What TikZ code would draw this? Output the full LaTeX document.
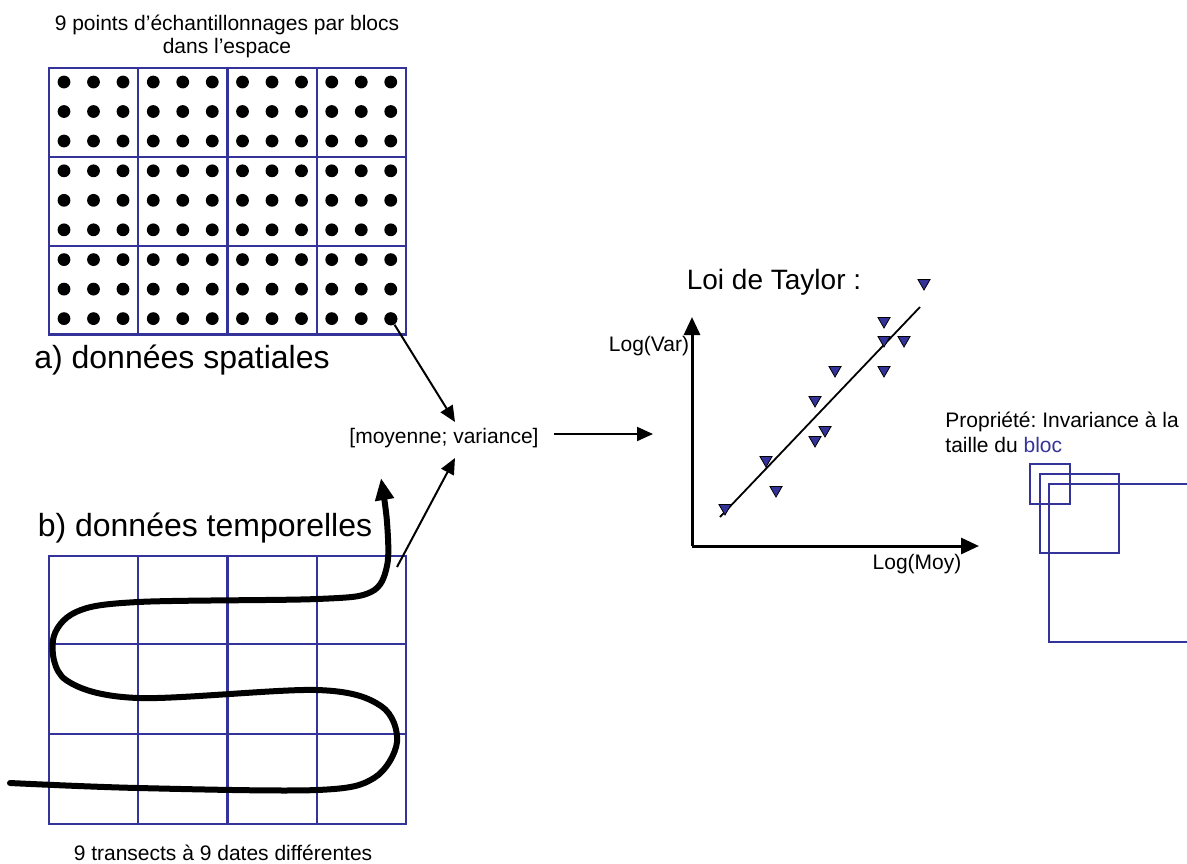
\documentclass[tikz,border=0pt]{standalone}
\usepackage{fontspec}
\setmainfont{Liberation Sans}
\frenchspacing
\usetikzlibrary{arrows.meta,shapes.geometric}
\definecolor{blocblue}{RGB}{51,51,153}
\tikzstyle{cell}=[draw=blocblue, line width=1.1pt]
\tikzstyle{dot}=[circle,fill=black,minimum size=6.4pt,inner sep=0pt]
\tikzstyle{tri}=[regular polygon,regular polygon sides=3,shape border rotate=180,draw=black,line width=0.4pt,fill=blocblue,minimum size=7pt,inner sep=0pt]
\tikzstyle{arr}=[-{Triangle[length=8pt,width=7pt]},line width=1pt]
\tikzstyle{axis}=[-{Triangle[length=9pt,width=8pt]},line width=1.5pt]
\tikzstyle{small} = [font=\fontsize{10.5}{11.5}\selectfont, inner sep=0pt]
\tikzstyle{big} = [font=\fontsize{16}{19}\selectfont, inner sep=0pt]

\begin{document}
\begin{tikzpicture}[x=0.5pt,y=-0.5pt]
  \useasboundingbox (0,0) rectangle (1187,863);
  \clip (0,0) rectangle (1187,863);

%spatial blocks
  \foreach \bx in {0,...,3}
    \foreach \by in {0,1,2}
      \draw[cell] (49+\bx*89.25,68+\by*88.8) rectangle ++(89.25,88.8);
  \foreach \bx in {0,...,3}
    \foreach \px in {0,1,2}
      \foreach \by in {0,1,2}
        \foreach \py in {0,1,2}
          \node[dot] at (64+\bx*89.25+\px*29.5, 82+\by*88.8+\py*29.5) {};
  \node[dot] (lastdot) at (391,319) {};

  \node[small, align=center] (titre) at (227,36.5) {9 points d’échantillonnages par blocs\\dans l’espace};
  \node[big] (spatial) at (182,360) {a) données spatiales};

%temporal blocks
  \foreach \bx in {0,...,3}
    \foreach \by/\h in {556/88, 644/90, 734/90}
      \draw[cell] (49+\bx*89.25,\by) rectangle ++(89.25,\h);

  \node[big] (temporel) at (205,528) {b) données temporelles};
  \node[small] (transects) at (223,853) {9 transects à 9 dates différentes};

  \draw[-{Triangle[length=11pt,width=9pt]}, line width=3pt, line cap=round]
    plot[smooth, tension=0.55] coordinates {(10,783) (138,788) (317,790) (374,778) (397,742) (381,706) (317,690) (138,698) (66,680) (53,640) (76,612) (138,602) (317,599) (371,592) (387,566) (387,522) (381,478)};

%mean and variance
  \node[small] (mv) at (444,438) {[moyenne; variance]};
  \coordinate (mvtop) at (455,422);
  \coordinate (mvbot) at (455,458);
  \coordinate (mvout) at (554,434);
  \coordinate (tout) at (397,567);
  \coordinate (chartin) at (653,434);

  \draw[arr] (lastdot) -- (mvtop);
  \draw[arr] (tout) -- (mvbot);
  \draw[arr] (mvout) -- (chartin);

%Taylor
  \coordinate (O) at (692,546);
  \coordinate (ytip) at (692,317);
  \coordinate (xtip) at (979,546);
  \draw[axis] (O) -- (ytip);
  \draw[axis] (O) -- (xtip);
  \node[small] (logvar) at (649,346) {Log(Var)};
  \node[small] (logmoy) at (917,564) {Log(Moy)};
  \node[font=\fontsize{14}{17}\selectfont, inner sep=0pt] (taylor) at (774,282) {Loi de Taylor :};

  \coordinate (fitA) at (720,517);
  \coordinate (fitB) at (920,307);
  \draw[line width=0.9pt] (fitA) -- (fitB);

  \foreach \pos/\name in {{(924,283)/t1}, {(884,321)/t2}, {(884,340)/t3}, {(904,340)/t4}, {(835,370)/t5}, {(884,370)/t6}, {(815,400)/t7}, {(825,430)/t8}, {(815,440)/t9}, {(766,460)/t10}, {(776,490)/t11}, {(725,508)/t12}}
    \node[tri] (\name) at \pos {};

%invariance
  \node[small, align=left, anchor=west, font=\fontsize{10.5}{12.5}\selectfont] (prop) at (945,432) {Propriété: Invariance à la\\taille du \textcolor{blocblue}{bloc}};
  \draw[cell] (1030,464) rectangle (1070,504);
  \draw[cell] (1040,474) rectangle (1119,553);
  \draw[cell] (1049,484) rectangle (1210,642);

\end{tikzpicture}
\end{document}
